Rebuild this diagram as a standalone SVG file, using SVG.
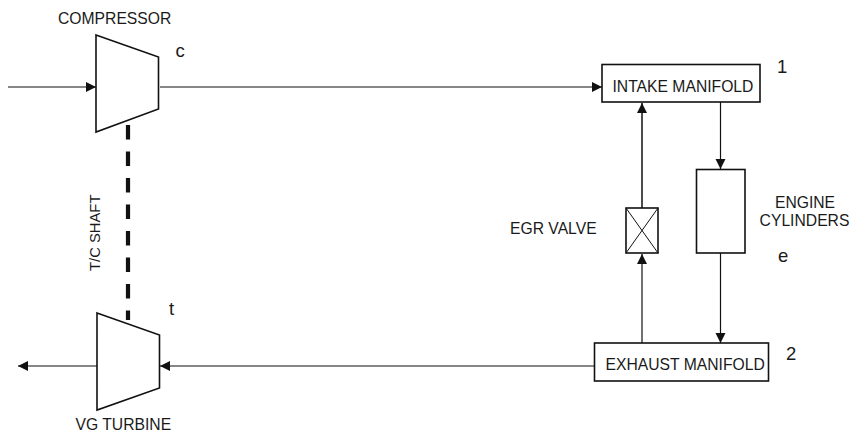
<svg xmlns="http://www.w3.org/2000/svg" width="850" height="433" viewBox="0 0 850 433">
<style>
text{font-family:"Liberation Sans",Arial,sans-serif;font-size:15.700px;fill:#1a1a1a}
.big{font-size:18.500px}
.shape{fill:#fff;stroke:#111;stroke-width:1.6}
.thin{fill:none;stroke:#111;stroke-width:1}
.line{fill:none;stroke:#111;stroke-width:1.2}
.shaft{fill:none;stroke:#111;stroke-width:4.200;stroke-dasharray:14.500 12}
</style>
<defs>
<marker id="a" markerUnits="userSpaceOnUse" markerWidth="11" markerHeight="11" refX="10" refY="5.500" orient="auto"><path d="M0 0.500L10 5.500L0 10.500Z" fill="#111"/></marker>
</defs>
<rect width="850" height="433" fill="#fff"/>
<g id="connectors">
<path class="line" d="M8 87H96" marker-end="url(#a)"/>
<path class="line" d="M160 87H602" marker-end="url(#a)"/>
<path class="line" d="M97 366H18" marker-end="url(#a)"/>
<path class="line" d="M594 366H160" marker-end="url(#a)"/>
<path class="line" style="stroke-width:1.500" d="M642 208V103" marker-end="url(#a)"/>
<path class="line" d="M642 343V254" marker-end="url(#a)"/>
<path class="line" d="M720.500 102V169" marker-end="url(#a)"/>
<path class="line" d="M720.500 253V343" marker-end="url(#a)"/>
</g>
<g id="compressor">
<path class="shape" d="M96 35L158.500 57V109L96 132Z"/>
<text x="58" y="24">COMPRESSOR</text>
<text class="big" x="175.500" y="57">c</text>
</g>
<g id="turbine">
<path class="shape" d="M97 313L159.500 335V388L97 410Z"/>
<text x="75.500" y="429.500">VG TURBINE</text>
<text class="big" x="169" y="315">t</text>
</g>
<g id="shaft"><path class="shaft" d="M128 125V320"/></g>
<g id="shaft-label"><text style="font-size:14.800px" transform="translate(100 271) rotate(-90)">T/C SHAFT</text></g>
<g id="intake-manifold">
<rect class="shape" x="602" y="64.500" width="158" height="37.500"/>
<text x="612.500" y="92">INTAKE MANIFOLD</text>
<text class="big" x="777" y="73">1</text>
</g>
<g id="egr-valve">
<rect class="shape" x="626" y="208" width="32" height="45"/>
<path class="thin" d="M626 208L658 253M658 208L626 253"/>
<text x="510" y="234">EGR VALVE</text>
</g>
<g id="engine-cylinders">
<rect class="shape" x="696.500" y="169.500" width="48.500" height="83.500"/>
<text x="805" y="208" text-anchor="middle">ENGINE</text>
<text x="804.500" y="226" text-anchor="middle">CYLINDERS</text>
<text class="big" x="778" y="262">e</text>
</g>
<g id="exhaust-manifold">
<rect class="shape" x="594.500" y="343" width="174" height="38"/>
<text x="605.500" y="370">EXHAUST MANIFOLD</text>
<text class="big" x="786" y="360">2</text>
</g>
</svg>
